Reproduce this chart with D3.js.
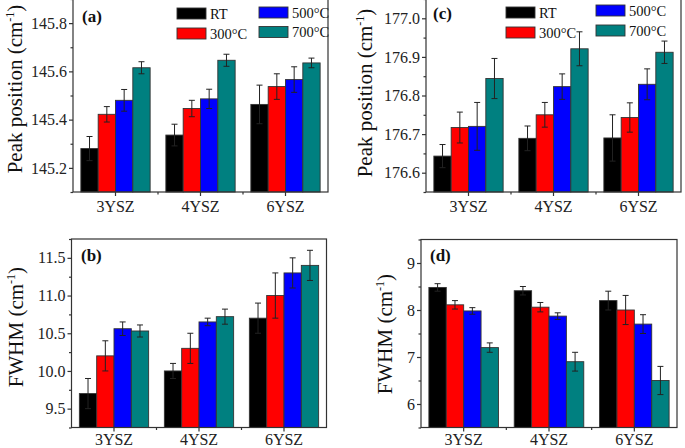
<!DOCTYPE html>
<html>
<head>
<meta charset="utf-8">
<script src="https://cdnjs.cloudflare.com/ajax/libs/d3/7.8.5/d3.min.js"></script>
<style>
  body { margin: 0; background: #fff; }
  svg { display: block; font-family: "Liberation Serif", "Times New Roman", serif; }
</style>
</head>
<body>
<script>
    // categories and series
    var categories = ['3YSZ', '4YSZ', '6YSZ'];
    var seriesNames = ['RT', '300°C', '500°C', '700°C'];
    var seriesColors = ['#000000', '#ff0000', '#0000ff', '#008080'];

    // (a) Peak position, lower band (one row per series, one value per category)
    var peakLow = [
        [145.28, 145.336, 145.463],
        [145.422, 145.446, 145.537],
        [145.48, 145.486, 145.566],
        [145.615, 145.646, 145.635]
    ];
    var peakLowErr = [
        [0.05, 0.045, 0.08],
        [0.032, 0.034, 0.053],
        [0.045, 0.04, 0.053],
        [0.025, 0.025, 0.02]
    ];

    // (c) Peak position, upper band
    var peakHigh = [
        [176.643, 176.689, 176.69],
        [176.717, 176.75, 176.743],
        [176.72, 176.823, 176.829],
        [176.844, 176.921, 176.912]
    ];
    var peakHighErr = [
        [0.03, 0.032, 0.06],
        [0.04, 0.032, 0.038],
        [0.062, 0.033, 0.04],
        [0.052, 0.044, 0.029]
    ];

    // (b) FWHM, lower band
    var fwhmLow = [
        [9.7, 10.0, 10.7],
        [10.2, 10.3, 11.0],
        [10.56, 10.65, 11.3],
        [10.53, 10.72, 11.4]
    ];
    var fwhmLowErr = [
        [0.2, 0.1, 0.2],
        [0.2, 0.2, 0.3],
        [0.09, 0.05, 0.2],
        [0.08, 0.1, 0.2]
    ];

    // (d) FWHM, upper band
    var fwhmHigh = [
        [8.48, 8.41, 8.2],
        [8.11, 8.06, 8.0],
        [7.98, 7.87, 7.7],
        [7.2, 6.9, 6.5]
    ];
    var fwhmHighErr = [
        [0.08, 0.09, 0.2],
        [0.09, 0.1, 0.31],
        [0.07, 0.07, 0.2],
        [0.1, 0.2, 0.3]
    ];

    var panels = [
        { label: '(a)', values: peakLow, errs: peakLowErr, domain: [145.1, 145.9],
          ticks: [145.2, 145.4, 145.6, 145.8], minor: [145.1, 145.3, 145.5, 145.7, 145.9], fmt: '.1f',
          title: 'Peak position (cm', left: 73, top: -1, width: 255, bottom: 192, xPad: 5,
          labelPos: [82, 22], titlePos: [22, 89], legend: { x: [104, 186], y: [[8, 28], [7, 26.5]] } },
        { label: '(c)', values: peakHigh, errs: peakHighErr, domain: [176.55, 177.05],
          ticks: [176.6, 176.7, 176.8, 176.9, 177.0], minor: [176.55, 176.65, 176.75, 176.85, 176.95, 177.05], fmt: '.1f',
          title: 'Peak position (cm', left: 426, top: -1, width: 255, bottom: 192, xPad: 5,
          labelPos: [433, 19], titlePos: [372, 93], legend: { x: [80, 170], y: [[7, 27], [5, 25]] } },
        { label: '(b)', values: fwhmLow, errs: fwhmLowErr, domain: [9.25, 11.75],
          ticks: [9.5, 10.0, 10.5, 11.0, 11.5], minor: [9.25, 9.75, 10.25, 10.75, 11.25, 11.75], fmt: '.1f',
          title: 'FWHM (cm', left: 71.5, top: 239, width: 255, bottom: 427.5, xPad: 2,
          labelPos: [81, 261], titlePos: [22.5, 327], legend: null },
        { label: '(d)', values: fwhmHigh, errs: fwhmHighErr, domain: [5.5, 9.5],
          ticks: [6, 7, 8, 9], minor: [5.5, 6.5, 7.5, 8.5, 9.5], fmt: 'd',
          title: 'FWHM (cm', left: 421, top: 239.5, width: 256, bottom: 427.5, xPad: 2,
          labelPos: [430, 261], titlePos: [391.5, 334], legend: null }
    ];

    var svg = d3.select('body').append('svg')
        .attr('width', 685)
        .attr('height', 448);

    var axisColor = '#333';

    panels.forEach(function(p) {
        var g = svg.append('g');

        var x = d3.scaleBand().domain(categories).range([p.left, p.left + p.width]).padding(0);
        var groupW = x.bandwidth() * 0.815;
        var xs = d3.scaleBand().domain(d3.range(seriesNames.length)).range([-groupW / 2, groupW / 2]).padding(0);
        var y = d3.scaleLinear().domain(p.domain).range([p.bottom, p.top]);

        // bars
        p.values.forEach(function(row, si) {
            var sg = g.append('g');
            sg.selectAll('rect').data(row).enter().append('rect')
                .attr('x', function(d, ci) { return x(categories[ci]) + x.bandwidth() / 2 + xs(si); })
                .attr('y', function(d) { return y(d); })
                .attr('width', xs.bandwidth())
                .attr('height', function(d) { return p.bottom - y(d); })
                .attr('fill', seriesColors[si])
                .attr('stroke', '#333')
                .attr('stroke-width', 0.9);
        });

        // error bars
        p.values.forEach(function(row, si) {
            var eg = g.append('g').attr('stroke', '#222').attr('stroke-width', 1);
            row.forEach(function(v, ci) {
                var cx = x(categories[ci]) + x.bandwidth() / 2 + xs(si) + xs.bandwidth() / 2;
                var e = p.errs[si][ci];
                eg.append('line').attr('x1', cx).attr('x2', cx).attr('y1', y(v - e)).attr('y2', y(v + e));
                eg.append('line').attr('x1', cx - 3).attr('x2', cx + 3).attr('y1', y(v + e)).attr('y2', y(v + e));
                eg.append('line').attr('x1', cx - 3).attr('x2', cx + 3).attr('y1', y(v - e)).attr('y2', y(v - e));
            });
        });

        // frame
        g.append('rect')
            .attr('x', p.left).attr('y', p.top)
            .attr('width', p.width).attr('height', p.bottom - p.top)
            .attr('fill', 'none').attr('stroke', axisColor).attr('stroke-width', 1.2);

        // y axis
        var yAxis = g.append('g').attr('transform', 'translate(' + p.left + ',0)')
            .call(d3.axisLeft(y).tickValues(p.ticks).tickSize(4).tickPadding(2).tickFormat(d3.format(p.fmt)));
        var yMinor = g.append('g').attr('transform', 'translate(' + p.left + ',0)')
            .call(d3.axisLeft(y).tickValues(p.minor).tickSize(2.5).tickFormat(''));

        // x axis
        var xAxis = g.append('g').attr('transform', 'translate(0,' + p.bottom + ')')
            .call(d3.axisBottom(x).tickSize(4).tickSizeOuter(0).tickPadding(p.xPad));
        var xMinor = g.append('g').attr('class', 'xminor');
        xMinor.selectAll('line').data(categories.slice(1)).enter().append('line')
            .attr('x1', function(d) { return x(d); }).attr('x2', function(d) { return x(d); })
            .attr('y1', p.bottom).attr('y2', p.bottom + 2.5)
            .attr('stroke', axisColor).attr('stroke-width', 1.2);

        [yAxis, yMinor, xAxis].forEach(function(a) {
            a.select('.domain').remove();
            a.selectAll('line').attr('stroke', axisColor).attr('stroke-width', 1.2);
            a.selectAll('text').attr('fill', '#222').style('font-size', '16px')
                .style('font-family', '"Liberation Serif", "Times New Roman", serif');
        });

        // y title
        var t = g.append('text')
            .attr('transform', 'translate(' + p.titlePos[0] + ',' + p.titlePos[1] + ') rotate(-90)')
            .attr('text-anchor', 'middle')
            .style('font-size', '21px')
            .attr('fill', '#111');
        t.append('tspan').text(p.title);
        t.append('tspan').attr('dy', -8).style('font-size', '12px').text('-1');
        t.append('tspan').attr('dy', 8).text(')');

        // panel label
        g.append('text')
            .attr('x', p.labelPos[0]).attr('y', p.labelPos[1])
            .style('font-size', '17px').style('font-weight', 'bold')
            .attr('fill', '#111')
            .text(p.label);

        // legend
        if (p.legend) {
            seriesNames.forEach(function(name, si) {
                var col = Math.floor(si / 2), row = si % 2;
                var lx = p.left + p.legend.x[col];
                var ly = p.legend.y[col][row];
                g.append('rect')
                    .attr('x', lx).attr('y', ly).attr('width', 29).attr('height', 11)
                    .attr('fill', seriesColors[si]).attr('stroke', '#333').attr('stroke-width', 0.9);
                g.append('text')
                    .attr('x', lx + 33).attr('y', ly + 10.5)
                    .style('font-size', '14.5px').attr('fill', '#111')
                    .text(name);
            });
        }
    });
</script>
</body>
</html>
